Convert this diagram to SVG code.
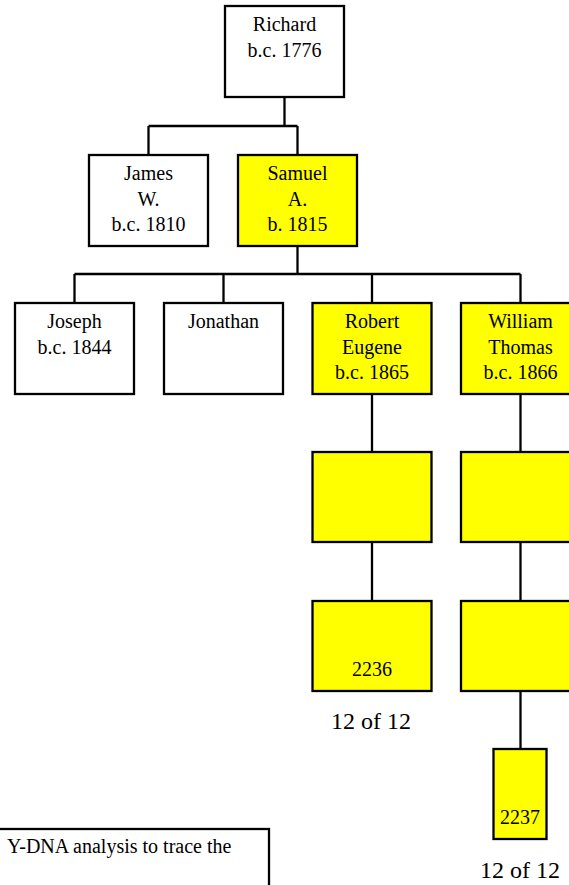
<svg xmlns="http://www.w3.org/2000/svg" width="569" height="885" viewBox="0 0 569 885">
<style>
.box{stroke:#000;stroke-width:2.3;fill:#fff}
.y{fill:#ffff00}
.t{font-family:"Liberation Serif","Times New Roman",serif;font-size:20px;fill:#000;text-anchor:middle}
.big{font-size:24px}
.c{stroke:#000;stroke-width:2.3;fill:none}
</style>
<rect width="569" height="885" fill="#fff"/>
<g id="connectors">
<path class="c" d="M284.5 97V126M148.5 126H297.5M148.5 126V155M297.5 126V155"/>
<path class="c" d="M297.5 246V274M74.5 274H520.5M74.5 274V303M223.5 274V303M372 274V303M520.5 274V303"/>
<path class="c" d="M372 394V452M372 542V601"/>
<path class="c" d="M520.5 394V452M520.5 542V601M520.5 691V749"/>
</g>
<g id="richard"><rect class="box" x="225" y="6" width="119" height="91"/><text class="t" x="284.5" y="31">Richard</text><text class="t" x="284.5" y="57">b.c. 1776</text></g>
<g id="james"><rect class="box" x="89" y="155" width="119" height="91"/><text class="t" x="148.5" y="180">James</text><text class="t" x="148.5" y="205.5">W.</text><text class="t" x="148.5" y="231">b.c. 1810</text></g>
<g id="samuel"><rect class="box y" x="238" y="155" width="119" height="91"/><text class="t" x="297.5" y="180">Samuel</text><text class="t" x="297.5" y="205.5">A.</text><text class="t" x="297.5" y="231">b. 1815</text></g>
<g id="joseph"><rect class="box" x="15" y="303" width="119" height="91"/><text class="t" x="74.5" y="328">Joseph</text><text class="t" x="74.5" y="354">b.c. 1844</text></g>
<g id="jonathan"><rect class="box" x="164" y="303" width="119" height="91"/><text class="t" x="223.5" y="328">Jonathan</text></g>
<g id="robert"><rect class="box y" x="312.5" y="303" width="119" height="91"/><text class="t" x="372" y="328">Robert</text><text class="t" x="372" y="353.5">Eugene</text><text class="t" x="372" y="379">b.c. 1865</text></g>
<g id="william"><rect class="box y" x="461" y="303" width="119" height="91"/><text class="t" x="520.5" y="328">William</text><text class="t" x="520.5" y="353.5">Thomas</text><text class="t" x="520.5" y="379">b.c. 1866</text></g>
<g id="robert-child"><rect class="box y" x="312.5" y="452" width="119" height="90"/></g>
<g id="robert-grandchild"><rect class="box y" x="312.5" y="601" width="119" height="90"/><text class="t" x="372" y="676">2236</text></g>
<text class="t big" x="371" y="729">12 of 12</text>
<g id="william-child"><rect class="box y" x="461" y="452" width="119" height="90"/></g>
<g id="william-grandchild"><rect class="box y" x="461" y="601" width="119" height="90"/></g>
<g id="william-greatgrandchild"><rect class="box y" x="493.5" y="749" width="53" height="90"/><text class="t" x="520" y="824">2237</text></g>
<text class="t big" x="520" y="878">12 of 12</text>
<g id="note"><rect class="box" x="-10" y="829" width="279" height="80"/><text class="t" x="7" y="853" style="text-anchor:start">Y-DNA analysis to trace the</text></g>
</svg>
